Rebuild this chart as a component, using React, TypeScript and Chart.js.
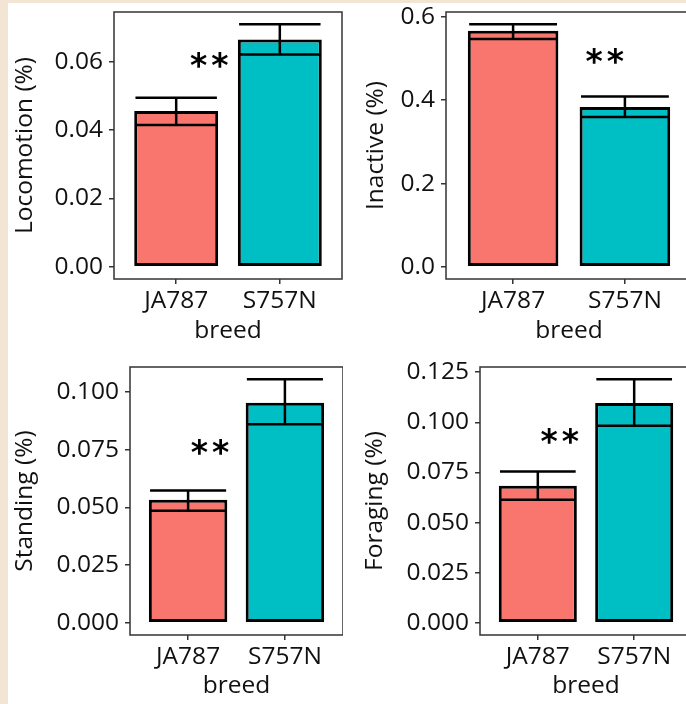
import React, { useEffect, useRef } from "react";
import { Chart, registerables } from "chart.js";

Chart.register(...registerables);

// ---------- data ----------
const breeds = ["JA787", "S757N"];
const breedColors = ["#F8766D", "#00BFC4"];

const locomotionMean = [0.0456, 0.0665];
const locomotionLow = [0.0415, 0.0621];
const locomotionHigh = [0.0495, 0.071];
const locomotionTicks = [0, 0.02, 0.04, 0.06];

const inactiveMean = [0.5666, 0.3835];
const inactiveLow = [0.5467, 0.3596];
const inactiveHigh = [0.5826, 0.4088];
const inactiveTicks = [0, 0.2, 0.4, 0.6];

const standingMean = [0.0533, 0.0953];
const standingLow = [0.0485, 0.086];
const standingHigh = [0.0573, 0.1055];
const standingTicks = [0, 0.025, 0.05, 0.075, 0.1];

const foragingMean = [0.0684, 0.1096];
const foragingLow = [0.0614, 0.0983];
const foragingHigh = [0.0755, 0.1215];
const foragingTicks = [0, 0.025, 0.05, 0.075, 0.1, 0.125];

// significance label "**" anchor (data coordinates: x on breed axis, y value)
const starLabel = "**";
const starX = [1.317, 1.819, 1.226, 1.227];
const starY = [0.0605, 0.507, 0.0762, 0.0931];

// ---------- layout ----------
const FONT = "'Open Sans', 'DejaVu Sans', sans-serif";
const FONT_SIZE = 24.5;
const TEXT_COLOR = "#111111";
const FRAME_COLOR = "#333333";
const BEIGE = "#F2E5D3";

type Rect = { l: number; t: number; w: number; h: number };
type Frame = { l: number; t: number; r: number; b: number };
type PanelCfg = {
  title: string;
  mean: number[];
  low: number[];
  high: number[];
  ticks: number[];
  decimals: number;
  starIdx: number;
  canvas: Rect;
  frame: Frame;
  yTitleCenter: number; // absolute x of y title center
  xTitleCenter: number; // absolute y of x title center
};

const panels: PanelCfg[] = [
  {
    title: "Locomotion (%)",
    mean: locomotionMean,
    low: locomotionLow,
    high: locomotionHigh,
    ticks: locomotionTicks,
    decimals: 2,
    starIdx: 0,
    canvas: { l: 8, t: 3, w: 335, h: 349 },
    frame: { l: 114, t: 12, r: 342, b: 279 },
    yTitleCenter: 25,
    xTitleCenter: 331,
  },
  {
    title: "Inactive (%)",
    mean: inactiveMean,
    low: inactiveLow,
    high: inactiveHigh,
    ticks: inactiveTicks,
    decimals: 1,
    starIdx: 1,
    canvas: { l: 343, t: 3, w: 357, h: 349 },
    frame: { l: 446, t: 12, r: 692, b: 279 },
    yTitleCenter: 376,
    xTitleCenter: 331,
  },
  {
    title: "Standing (%)",
    mean: standingMean,
    low: standingLow,
    high: standingHigh,
    ticks: standingTicks,
    decimals: 3,
    starIdx: 2,
    canvas: { l: 8, t: 352, w: 335, h: 352 },
    frame: { l: 130, t: 367, r: 343, b: 635 },
    yTitleCenter: 25,
    xTitleCenter: 686,
  },
  {
    title: "Foraging (%)",
    mean: foragingMean,
    low: foragingLow,
    high: foragingHigh,
    ticks: foragingTicks,
    decimals: 3,
    starIdx: 3,
    canvas: { l: 343, t: 352, w: 357, h: 352 },
    frame: { l: 480, t: 367, r: 692, b: 635 },
    yTitleCenter: 375,
    xTitleCenter: 686,
  },
];

function makeOverlay(cfg: PanelCfg) {
  return {
    id: "overlay",
    afterDatasetsDraw(chart: any) {
      const { ctx, chartArea, scales } = chart;
      const xs = scales.x;
      const ys = scales.y;
      const meta = chart.getDatasetMeta(0);
      ctx.save();
      // error bars
      ctx.strokeStyle = "#000";
      ctx.lineWidth = 2.5;
      ctx.lineCap = "butt";
      cfg.low.forEach((lo, i) => {
        const bar = meta.data[i];
        const half = (bar.width / 2) * 0.97;
        const cx = xs.getPixelForValue(i + 1);
        const yl = ys.getPixelForValue(lo);
        const yh = ys.getPixelForValue(cfg.high[i]);
        ctx.beginPath();
        ctx.moveTo(cx - half, yl);
        ctx.lineTo(cx + half, yl);
        ctx.moveTo(cx - half, yh);
        ctx.lineTo(cx + half, yh);
        ctx.moveTo(cx, yl);
        ctx.lineTo(cx, yh);
        ctx.stroke();
      });
      // frame
      ctx.strokeStyle = FRAME_COLOR;
      ctx.lineWidth = 1.5;
      ctx.strokeRect(chartArea.left, chartArea.top, chartArea.right - chartArea.left, chartArea.bottom - chartArea.top);
      // significance stars
      ctx.fillStyle = "#000";
      ctx.font = "bold 33px 'DejaVu Sans'";
      try {
        (ctx as any).letterSpacing = "4px";
      } catch (e) {}
      const m = ctx.measureText(starLabel);
      const w = m.actualBoundingBoxLeft + m.actualBoundingBoxRight;
      const h = m.actualBoundingBoxAscent + m.actualBoundingBoxDescent;
      const sx = xs.getPixelForValue(starX[cfg.starIdx]);
      const sy = ys.getPixelForValue(starY[cfg.starIdx]);
      ctx.textAlign = "left";
      ctx.textBaseline = "alphabetic";
      ctx.fillText(starLabel, sx - w / 2 + m.actualBoundingBoxLeft, sy + h / 2 - m.actualBoundingBoxDescent);
      ctx.restore();
    },
  };
}

function Panel({ cfg }: { cfg: PanelCfg }) {
  const ref = useRef<HTMLCanvasElement>(null);
  useEffect(() => {
    const c = cfg.canvas;
    const f = cfg.frame;
    const top = Math.max(...cfg.high);
    const yMax = top * 1.05;
    const yMin = -top * 0.05;
    const font = { family: FONT, size: FONT_SIZE };
    const lineH = FONT_SIZE * 1.2;
    const chart = new Chart(ref.current as HTMLCanvasElement, {
      type: "bar",
      data: {
        datasets: [
          {
            data: breeds.map((_, i) => ({ x: i + 1, y: cfg.mean[i] })) as any,
            backgroundColor: breedColors,
            borderColor: "#000",
            borderWidth: 3,
            borderSkipped: false,
            barPercentage: 0.81,
            categoryPercentage: 1,
          },
        ],
      },
      options: {
        responsive: false,
        animation: false,
        devicePixelRatio: 1,
        events: [],
        layout: {
          padding: { left: 0, top: f.t - c.t, right: c.l + c.w - f.r, bottom: 0 },
        },
        plugins: { legend: { display: false }, tooltip: { enabled: false } },
        scales: {
          x: {
            type: "linear",
            min: 0.4,
            max: breeds.length + 0.6,
            offset: false,
            afterBuildTicks: (s: any) => {
              s.ticks = breeds.map((_, i) => ({ value: i + 1 }));
            },
            afterFit: (s: any) => {
              s.height = c.t + c.h - f.b;
              s.paddingLeft = 0;
              s.paddingRight = 0;
            },
            grid: {
              display: true,
              offset: false,
              drawOnChartArea: false,
              drawTicks: true,
              tickLength: 5,
              color: FRAME_COLOR,
              lineWidth: 1.5,
            },
            border: { display: false },
            ticks: {
              callback: (_v: any, i: number) => breeds[i],
              font,
              color: TEXT_COLOR,
              padding: 2,
              maxRotation: 0,
              autoSkip: false,
            },
            title: {
              display: true,
              text: "breed",
              font,
              color: TEXT_COLOR,
              padding: { top: 0, bottom: c.t + c.h - cfg.xTitleCenter - lineH / 2 },
            },
          },
          y: {
            type: "linear",
            min: yMin,
            max: yMax,
            afterBuildTicks: (s: any) => {
              s.ticks = cfg.ticks.map((v) => ({ value: v }));
            },
            afterFit: (s: any) => {
              s.width = f.l - c.l;
              s.paddingTop = 0;
              s.paddingBottom = 0;
            },
            grid: {
              display: true,
              drawOnChartArea: false,
              drawTicks: true,
              tickLength: 5,
              color: FRAME_COLOR,
              lineWidth: 1.5,
            },
            border: { display: false },
            ticks: {
              callback: (v: any) => Number(v).toFixed(cfg.decimals),
              font,
              color: TEXT_COLOR,
              padding: 6,
              autoSkip: false,
            },
            title: {
              display: true,
              text: cfg.title,
              font,
              color: TEXT_COLOR,
              padding: { top: cfg.yTitleCenter - c.l - lineH / 2, bottom: 0 },
            },
          },
        },
      } as any,
      plugins: [makeOverlay(cfg)],
    });
    return () => chart.destroy();
  }, [cfg]);
  const c = cfg.canvas;
  return (
    <canvas
      ref={ref}
      width={c.w}
      height={c.h}
      style={{ position: "absolute", left: c.l, top: c.t, width: c.w, height: c.h }}
    />
  );
}

export default function App() {
  return (
    <div
      style={{
        position: "fixed",
        left: 0,
        top: 0,
        width: 686,
        height: 704,
        overflow: "hidden",
        background: "#ffffff",
      }}
    >
      {panels.map((p, i) => (
        <Panel key={i} cfg={p} />
      ))}
      <div style={{ position: "absolute", left: 0, top: 0, width: 686, height: 3, background: BEIGE }} />
      <div style={{ position: "absolute", left: 0, top: 0, width: 8, height: 704, background: BEIGE }} />
    </div>
  );
}
